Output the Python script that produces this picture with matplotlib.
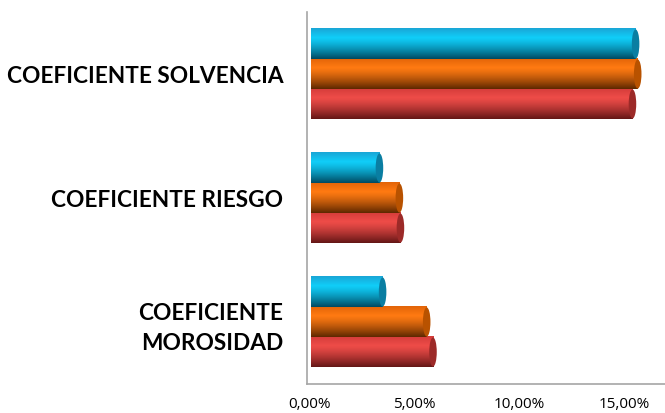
import numpy as np
import matplotlib
matplotlib.use('Agg')
from matplotlib import pyplot as plt
from matplotlib.patches import Ellipse
from matplotlib.colors import to_rgb

# categorias (de abajo hacia arriba)
categorias = ['COEFICIENTE\nMOROSIDAD', 'COEFICIENTE RIESGO', 'COEFICIENTE SOLVENCIA']
# valores en %, una serie por color
serie_roja = [5.9, 4.35, 15.4]
serie_naranja = [5.6, 4.3, 15.65]
serie_celeste = [3.5, 3.35, 15.55]
ticks_x = [0, 5, 10, 15]
etiquetas_x = ['0,00%', '5,00%', '10,00%', '15,00%']

# (claro arriba, brillo, oscuro abajo, tapa)
colores = {
    'roja': ('#d43c3a', '#ee4c48', '#641616', '#9c2a28'),
    'naranja': ('#e26408', '#ff7a12', '#5e2800', '#b85200'),
    'celeste': ('#1aa6d6', '#10cdf8', '#004a62', '#0a7ea2'),
}

plt.rcParams['font.family'] = ['Lato', 'DejaVu Sans']

fig = plt.figure(figsize=(6.65, 4.13), dpi=100)
ax = fig.add_axes([307 / 665, 1 - 384 / 413, 1 - 307 / 665, 372 / 413])

alto = 0.242


def perfil(c_top, c_mid, c_bot, n=64):
    """gradiente vertical de un cilindro (fila 0 = arriba)"""
    t = np.linspace(0, 1, n)
    a, b, c = np.array(to_rgb(c_top)), np.array(to_rgb(c_mid)), np.array(to_rgb(c_bot))
    img = np.zeros((n, 1, 3))
    for i, v in enumerate(t):
        if v < 0.3:
            k = v / 0.3
            img[i, 0] = a * (1 - k) + b * k
        else:
            k = ((v - 0.3) / 0.7) ** 1.3
            img[i, 0] = b * (1 - k) + c * k
    return img


def cilindro(y, valor, cols):
    c_top, c_mid, c_bot, c_cap = cols
    img = perfil(c_top, c_mid, c_bot)
    ax.imshow(img, extent=(0.08, valor, y - alto / 2, y + alto / 2), aspect='auto',
              interpolation='bilinear', zorder=2)
    # tapa del cilindro
    ax.add_patch(Ellipse((valor, y), 0.36, alto * 0.97, color=c_cap, zorder=3, lw=0))


for i in range(len(categorias)):
    cilindro(i - alto, serie_roja[i], colores['roja'])
    cilindro(i, serie_naranja[i], colores['naranja'])
    cilindro(i + alto, serie_celeste[i], colores['celeste'])

ax.set_xlim(-0.1, 16.95)
ax.set_ylim(-0.5, 2.5)
ax.set_xticks(ticks_x)
ax.set_xticklabels(etiquetas_x, fontsize=11, family=['Open Sans', 'DejaVu Sans'])
ax.set_yticks(range(len(categorias)))
ax.set_yticklabels(categorias, fontsize=16.3, fontweight='bold', ha='right', multialignment='right',
                   linespacing=1.5)
ax.tick_params(axis='both', length=0)
ax.tick_params(axis='y', pad=17)
ax.tick_params(axis='x', pad=9)

for s in ['top', 'right']:
    ax.spines[s].set_visible(False)
for s in ['left', 'bottom']:
    ax.spines[s].set_color('#a6a6a6')
    ax.spines[s].set_linewidth(1.2)

fig.savefig('out.png', dpi=100)
